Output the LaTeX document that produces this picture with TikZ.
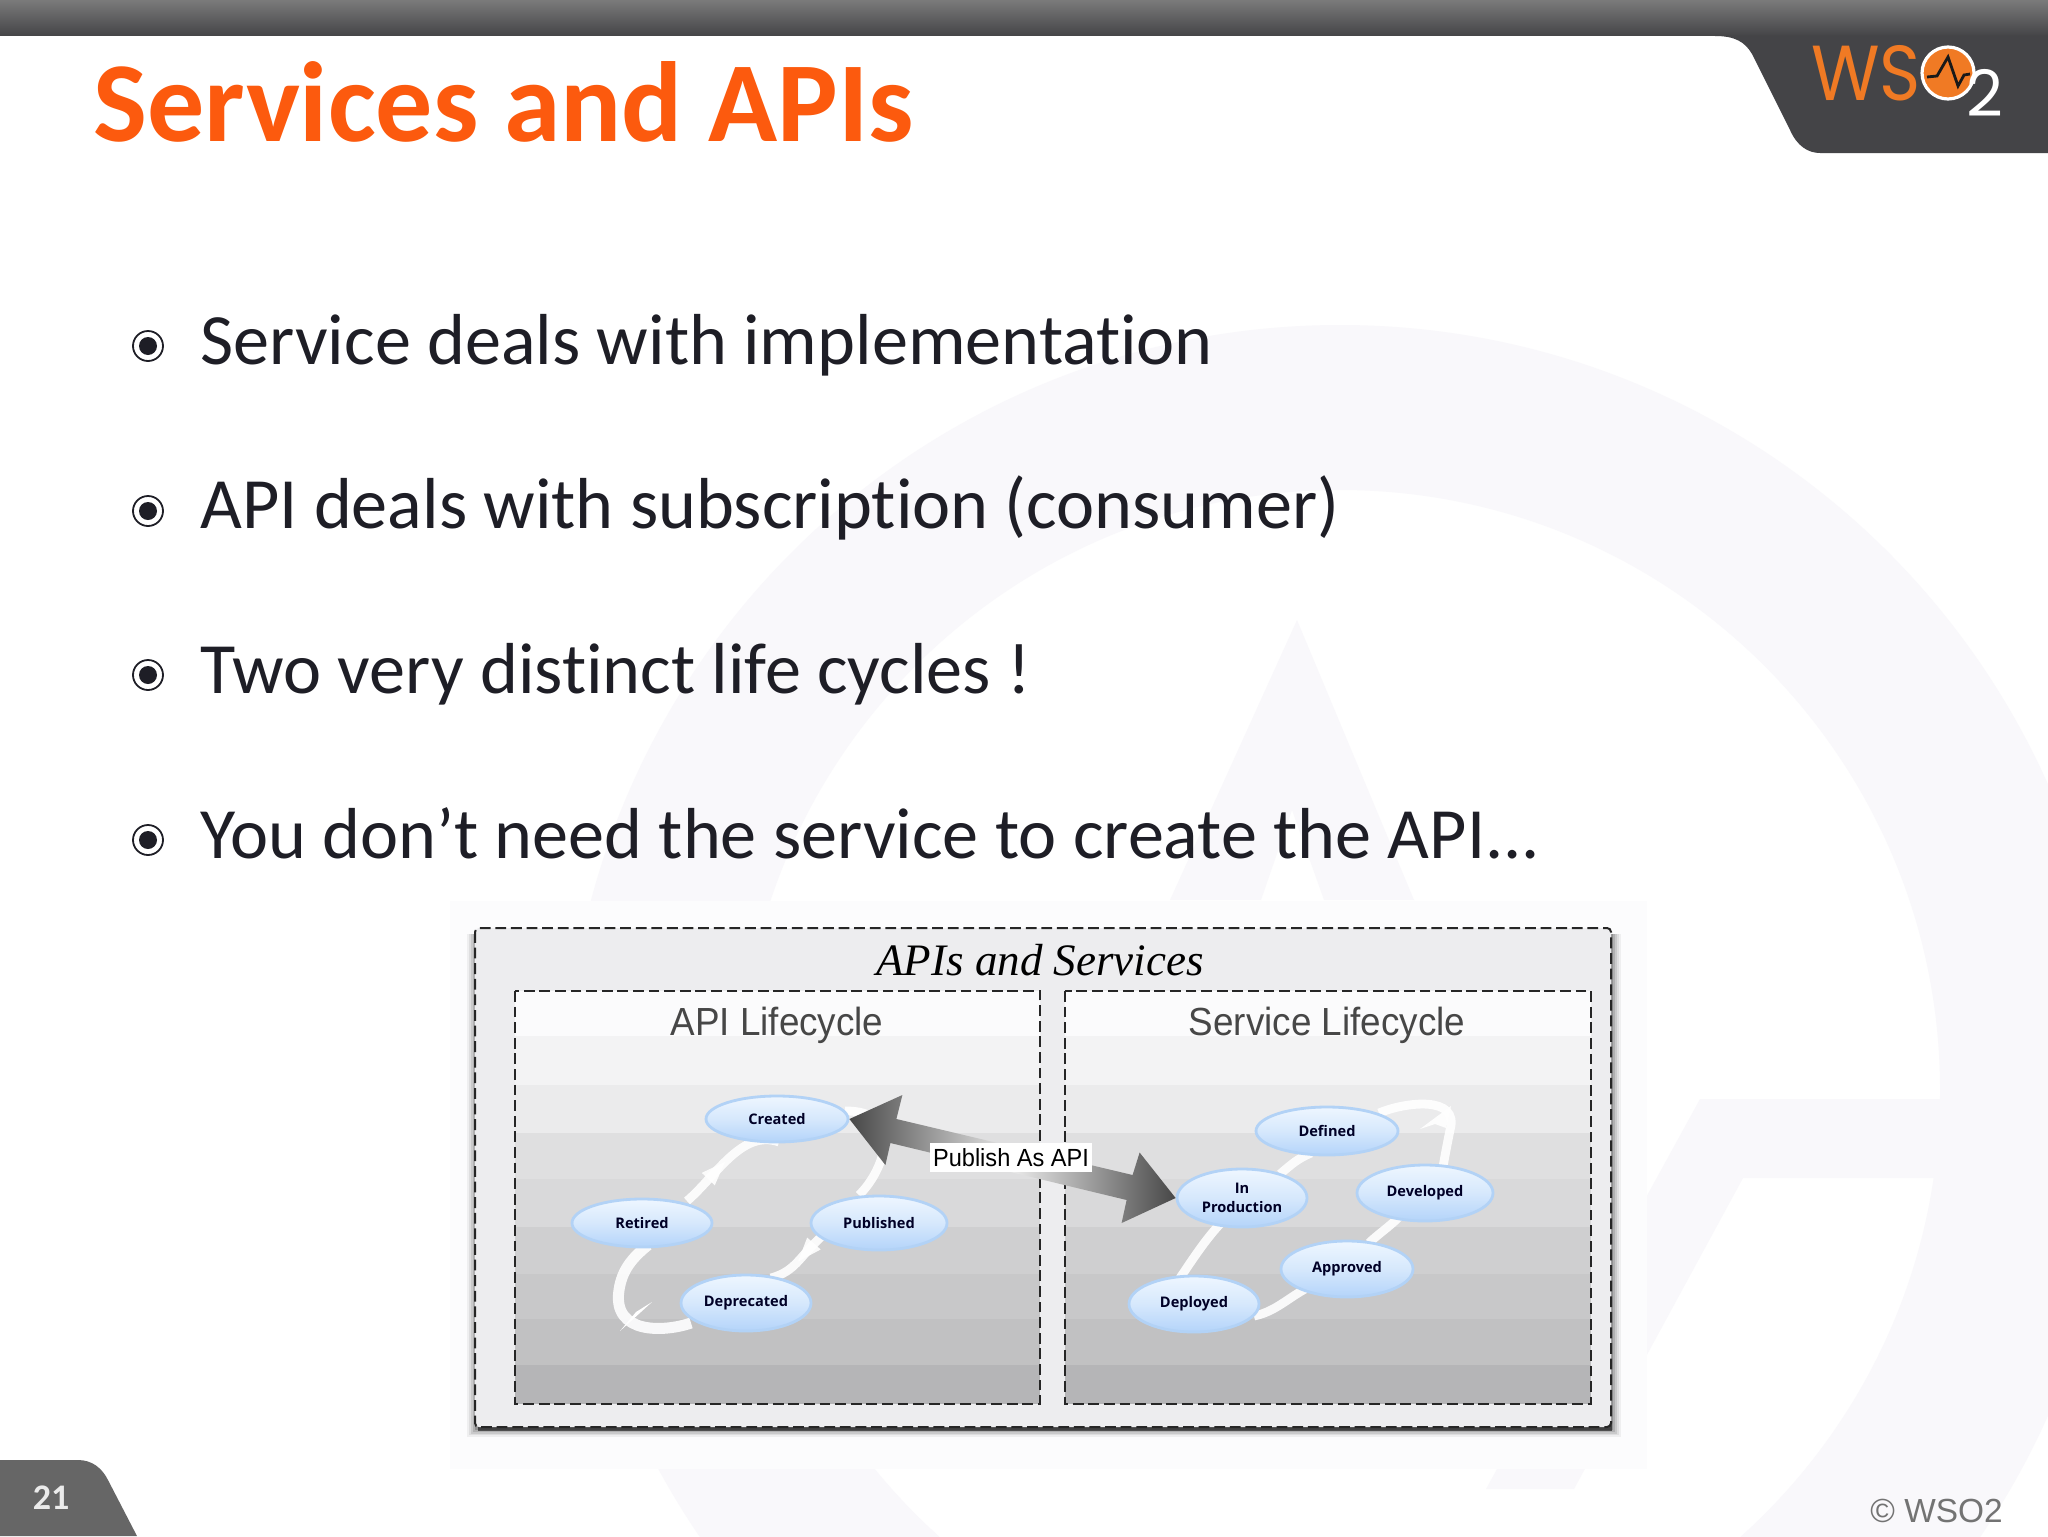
\documentclass[tikz,border=0pt]{standalone}
\usepackage{fontspec}
\setmainfont{Carlito}[Ligatures=CommonOff]
\newfontfamily\libsans{Liberation Sans}
\newfontfamily\opensans{Open Sans}
\newfontfamily\popfont{Poppins}
\newfontfamily\handfont{Liberation Serif}
\usetikzlibrary{calc,shapes.geometric,decorations.markings,arrows.meta}
\definecolor{wm}{HTML}{F9F8FB}
\definecolor{bgrect}{HTML}{FCFCFD}
\definecolor{headdark}{HTML}{444447}
\definecolor{titleor}{HTML}{FC5A0E}
\definecolor{bodyink}{HTML}{1E1E26}
\definecolor{logoor}{HTML}{F07A24}
\definecolor{outerfill}{HTML}{EDEDEF}
\definecolor{elltop}{HTML}{EEF6FF}
\definecolor{ellmid}{HTML}{D6E8FC}
\definecolor{ellbot}{HTML}{B4D4FA}
\definecolor{elledge}{HTML}{B2D2F6}
\newcommand{\linea}{Service deals with implementation}
\newcommand{\lineb}{API deals with subscription (consumer)}
\newcommand{\linec}{Two very distinct life cycles !}
\newcommand{\lined}{You don’t need the service to create the API...}
\tikzset{
  bodytext/.style={anchor=base west,inner sep=0pt,text=bodyink,font=\fontsize{36.1}{38}\selectfont},
  bulring/.style={circle,draw=bodyink,line width=.9pt,fill=white,minimum size=15pt,inner sep=0pt},
  buldot/.style={circle,fill=bodyink,minimum size=9pt,inner sep=0pt},
  dashbox/.style={draw=black!85,line width=1pt,dash pattern=on 5.4pt off 2.4pt},
  panelhead/.style={inner sep=0pt,text=black!72,font=\libsans\fontsize{19.6}{21}\selectfont},
  life/.style 2 args={ellipse,minimum width=#1pt,minimum height=#2pt,inner sep=0pt,align=center,
     top color=elltop,bottom color=ellbot,middle color=ellmid,
     draw=elledge,line width=1.4pt,text=black!85!blue,
     font=\opensans\bfseries\fontsize{7.3}{9.2}\selectfont},
  flow/.style={draw=white,line width=4.4pt,line cap=butt,opacity=.9},
  flowhead/.style={postaction={decorate,decoration={markings,mark=at position #1 with {\fill[white] (-9pt,4.5pt)--(3pt,0pt)--(-9pt,-4.5pt)--cycle;}}}},
}
\begin{document}
\begin{tikzpicture}[x=.5pt,y=-.5pt]
\useasboundingbox (0,0) rectangle (2048,1536);
\fill[white] (0,0) rectangle (2048,1536);
% watermark
\begin{scope}
\clip (0,0) rectangle (2048,1536);
\fill[wm,even odd rule] (1340,1100) circle[radius=775] (1340,1090) circle[radius=600];
\fill[wm] (1943,1099)--(1700,1099)--(1486,1489)--(1574,1489)--(1743,1178)--(1943,1178)--cycle;
\fill[wm] (1297,620)--(1170,900)--(1261,900)--(1292,810)--(1324,900)--(1414,900)--cycle;
\end{scope}
% header
\shade[top color=black!52,bottom color=headdark] (0,0) rectangle (2048,36);
\fill[headdark] (1715,36) .. controls (1735,36) and (1745,42) .. (1752,54) -- (1790,130)
  .. controls (1797,146) and (1808,153) .. (1820,153) -- (2048,153) -- (2048,36) -- cycle;
\node[inner sep=0pt,anchor=base west,text=logoor] (logows) at (1811,100) {\popfont\scalebox{.9}[1]{\fontsize{39}{40}\selectfont WS}};
\node[circle,draw=white,line width=1.6pt,fill=logoor,minimum size=26pt,inner sep=0pt] (logoo) at (1948,73) {};
\draw[line width=1.4pt,black!90] (1927,77)--(1937,76)--(1948,57)--(1958,86)--(1964,75)--(1970,74);
\node[inner sep=0pt,anchor=base west,text=white] (logotwo) at (1966,117) {\popfont\fontsize{32}{34}\selectfont 2};
% title
\node[anchor=base west,inner sep=0pt,text=titleor] (title) at (93,141) {\fontsize{57}{60}\selectfont\bfseries Services and APIs};
% bullets
\foreach \nm/\yy/\bl/\txt in {a/346/364/\linea,b/511/528.5/\lineb,c/675/693/\linec,d/840/858/\lined}{
  \node[bulring] (ring\nm) at (148,\yy) {};
  \node[buldot] (dot\nm) at (148,\yy) {};
  \node[bodytext] (line\nm) at (200,\bl) {\txt};
}
% picture
\fill[bgrect] (450,901) rectangle (1647,1469);
\foreach \o/\k in {9/5,7/7,5/9,3/12,1/18}{
  \fill[black,opacity=\k/100] (476-\o,934) rectangle (1612+\o,1429+\o*.9);
}
\fill[black,opacity=.55] (478,1424) rectangle (1612,1431);
\draw[dashbox,fill=outerfill,rounded corners=2pt] (475,928) rectangle (1611,1427);
\foreach \xa/\xb in {515/1040,1064.5/1591}{
  \foreach \ya/\yb/\cc in {991/1036/FBFBFC,1036/1085/F3F3F4,1085/1133/EBEBEC,1133/1179/DFDFE0,1179/1227/D9D9DA,1227/1274/CFCFD0,1274/1319/C8C8C9,1319/1365/C1C1C2,1365/1404/B5B5B7}{
    \definecolor{bandc}{HTML}{\cc}
    \fill[bandc] (\xa,\ya) rectangle (\xb,\yb);
  }
  \draw[dashbox] (\xa,991) rectangle (\xb,1404);
}
\node[inner sep=0pt,text=black] (maintitle) at (1040,960) {\handfont\itshape\fontsize{22.5}{24}\selectfont APIs and Services};
\node[panelhead] (apihead) at (777,1025) {\scalebox{.94}[1]{API Lifecycle}};
\node[panelhead] (svchead) at (1327,1025) {\scalebox{.94}[1]{Service Lifecycle}};
% state positions
\path
  (777,1119) coordinate (created)  (642,1223) coordinate (retired)
  (879,1223) coordinate (published) (746,1303) coordinate (deprecated)
  (1327,1131) coordinate (defined) (1242,1198) coordinate (inprod)
  (1425,1193) coordinate (developed) (1347,1269) coordinate (approved)
  (1194,1304) coordinate (deployed);
% white flows
\draw[flow,flowhead=.42] ($(retired)+(45,-22)$) .. controls ($(retired)+(75,-48)$) and ($(created)+(-35,10)$) .. ($(created)+(2,23)$);
\draw[flow] ($(published)+(-20,-28)$) .. controls (885,1170) and (905,1110) .. ($(created)+(68,-8)$);
\draw[flow,flowhead=.42] ($(published)+(-58,14)$) .. controls ($(published)+(-80,34)$) and ($(deprecated)+(50,-32)$) .. ($(deprecated)+(25,-25)$);
\draw[flow,line width=5.5pt] ($(deprecated)+(-55,20)$) .. controls (665,1332) and (612,1335) .. (619,1290) .. controls (622,1270) and (632,1258) .. ($(retired)+(6,22)$);
\fill[white] (620,1331)--(652,1302)--(636,1312)--cycle;
\draw[flow] ($(deployed)+(-14,-26)$) .. controls ($(deployed)+(2,-50)$) and ($(inprod)+(-35,40)$) .. ($(inprod)+(-22,26)$);
\draw[flow] ($(inprod)+(38,-24)$) .. controls ($(inprod)+(50,-34)$) and ($(defined)+(-30,28)$) .. ($(defined)+(-16,22)$);
\draw[flow] ($(defined)+(52,-18)$) .. controls (1405,1102) and (1460,1095) .. (1450,1130) .. controls (1447,1145) and (1445,1155) .. ($(developed)+(18,-26)$);
\fill[white,opacity=.9] (1451,1106)--(1420,1129)--(1435,1124)--(1446,1128)--cycle;
\draw[flow] ($(developed)+(-26,24)$) .. controls ($(developed)+(-36,34)$) and ($(approved)+(30,-34)$) .. ($(approved)+(22,-26)$);
\draw[flow] ($(approved)+(-42,20)$) .. controls ($(approved)+(-60,30)$) and ($(deployed)+(80,8)$) .. ($(deployed)+(60,12)$);
% ellipses
\node[life={71}{23}] (ncreated) at (created) {Created};
\node[life={70}{24}] (nretired) at (retired) {Retired};
\node[life={68}{27}] (npublished) at (published) {Published};
\node[life={65}{28}] (ndeprecated) at (deprecated) {Deprecated};
\node[life={71}{24}] (ndefined) at (defined) {Defined};
\node[life={65}{29}] (ninprod) at (inprod) {In\\Production};
\node[life={68}{28}] (ndeveloped) at (developed) {Developed};
\node[life={66}{28}] (napproved) at (approved) {Approved};
\node[life={65}{28}] (ndeployed) at (deployed) {Deployed};
% publish arrow
\shade[left color=black!72,right color=black!72,middle color=black!8]
  (ncreated.east) -- ($(ncreated.east)+(53,-24)$) -- ($(ncreated.east)+(47,0)$)
  -- ($(ninprod.west)+(-43,-23)$) -- ($(ninprod.west)+(-36,-45.5)$) -- (ninprod.west)
  -- ($(ninprod.west)+(-54,25)$) -- ($(ninprod.west)+(-49,2)$)
  -- ($(ncreated.east)+(41,24)$) -- ($(ncreated.east)+(36,46)$) -- cycle;
\node[fill=white,inner sep=0pt,minimum width=81pt,minimum height=14.5pt,font=\libsans\fontsize{12.4}{13}\selectfont,text=black] (publish) at (1011,1157.5) {\scalebox{.95}[1]{Publish As API}};
% footer
\fill[black!60] (0,1460) -- (78,1460) .. controls (92,1460) and (102,1468) .. (108,1480) -- (137,1536) -- (0,1536) -- cycle;
\node[inner sep=0pt,text=black!8] (pageno) at (51,1498) {\fontsize{18}{20}\selectfont\bfseries 21};
\node[inner sep=0pt,anchor=base west,text=black!55] (copy) at (1870,1522) {\libsans\fontsize{16.7}{18}\selectfont © WSO2};
\end{tikzpicture}
\end{document}
